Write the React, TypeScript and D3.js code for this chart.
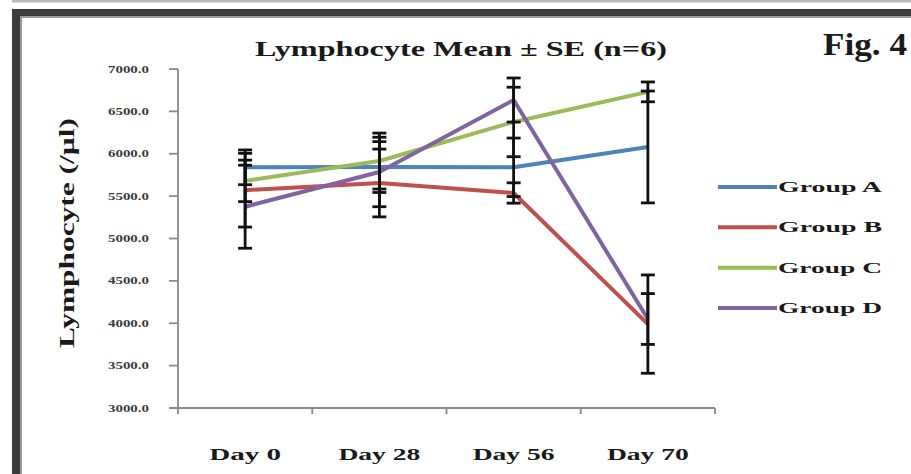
import React from "react";
import * as d3 from "d3";

// Sampling days along the x axis
const categories = ["Day 0", "Day 28", "Day 56", "Day 70"];

// Group names, in legend order
const groupNames = ["Group A", "Group B", "Group C", "Group D"];

// Mean lymphocyte counts (/µl) per group and day
const groupA = [5840, 5843, 5840, 6080];
const groupB = [5570, 5655, 5537, 3990];
const groupC = [5680, 5914, 6375, 6730];
const groupD = [5375, 5785, 6634, 4050];

// Standard errors per group and day
const seA = [205, 300, 345, 660];
const seB = [435, 400, 120, 580];
const seC = [245, 330, 410, 117];
const seD = [490, 410, 260, 300];

// Y axis ticks
const yTicks = [3000, 3500, 4000, 4500, 5000, 5500, 6000, 6500, 7000];

const seriesColors = ["#4F81BD", "#C0504D", "#9BBB59", "#8064A2"];

const W = 911;
const H = 474;
const FONT = "'Liberation Serif', 'DejaVu Serif', serif";

export default function App() {
  const means = [groupA, groupB, groupC, groupD];
  const errors = [seA, seB, seC, seD];

  const x = d3.scaleBand<string>().domain(categories).range([178, 715]);
  const y = d3.scaleLinear().domain([3000, 7000]).range([408, 69]);
  const cx = (c: string) => (x(c) as number) + x.bandwidth() / 2;

  const line = d3
    .line<number>()
    .x((_, i) => cx(categories[i]))
    .y((v) => y(v));

  const boundaries = [...categories.map((c) => x(c) as number), x.range()[1]];
  const legendY = d3.scalePoint<string>().domain(groupNames).range([187, 308]);

  return (
    <svg
      width={W}
      height={H}
      viewBox={`0 0 ${W} ${H}`}
      style={{ position: "absolute", left: 0, top: 0, background: "#fff" }}
    >
      {/* page frame */}
      <rect x={0} y={0} width={W} height={H} fill="#ffffff" />
      <rect x={12} y={0} width={W - 12} height={2.5} fill="#b8b8b8" />
      <rect x={12} y={9} width={W - 12} height={7} fill="#3c3c3c" />
      <rect x={12} y={16} width={W - 12} height={2} fill="#9a9a9a" />
      <rect x={12} y={9} width={8} height={H - 9} fill="#3c3c3c" />
      <rect x={20} y={16} width={2} height={H - 16} fill="#9a9a9a" />

      {/* title */}
      <text
        x={255}
        y={56}
        fontFamily={FONT}
        fontWeight="bold"
        fontSize={22}
        fill="#1a1a1a"
        textLength={412}
        lengthAdjust="spacingAndGlyphs"
      >
        Lymphocyte Mean ± SE  (n=6)
      </text>
      <text
        x={823}
        y={55}
        fontFamily={FONT}
        fontWeight="bold"
        fontSize={32}
        fill="#1a1a1a"
        textLength={84}
        lengthAdjust="spacingAndGlyphs"
      >
        Fig. 4
      </text>

      {/* y axis */}
      <line x1={178} x2={178} y1={y(7000)} y2={y(3000)} stroke="#8a8a8a" strokeWidth={1.8} />
      {yTicks.map((t) => (
        <g key={t}>
          <line x1={169} x2={178} y1={y(t)} y2={y(t)} stroke="#8a8a8a" strokeWidth={1.8} />
          <text
            x={149}
            y={y(t) + 3.5}
            textAnchor="end"
            fontFamily={FONT}
            fontWeight="bold"
            fontSize={10}
            fill="#3a3a3a"
            textLength={41}
            lengthAdjust="spacingAndGlyphs"
          >
            {t.toFixed(1)}
          </text>
        </g>
      ))}
      <text
        transform={`translate(74, 233) rotate(-90)`}
        textAnchor="middle"
        fontFamily={FONT}
        fontWeight="bold"
        fontSize={22}
        fill="#1a1a1a"
        textLength={230}
        lengthAdjust="spacingAndGlyphs"
      >
        Lymphocyte (/µl)
      </text>

      {/* x axis */}
      <line x1={170} x2={715} y1={408} y2={408} stroke="#8a8a8a" strokeWidth={1.8} />
      {boundaries.map((b, i) => (
        <line key={i} x1={b} x2={b} y1={408} y2={414} stroke="#8a8a8a" strokeWidth={1.8} />
      ))}
      {categories.map((c) => (
        <text
          key={c}
          x={cx(c)}
          y={460}
          textAnchor="middle"
          fontFamily={FONT}
          fontWeight="bold"
          fontSize={16}
          fill="#1a1a1a"
          textLength={c.length > 5 ? 82 : 72}
          lengthAdjust="spacingAndGlyphs"
        >
          {c}
        </text>
      ))}

      {/* series lines */}
      {means.map((m, s) => (
        <path
          key={s}
          d={line(m) as string}
          fill="none"
          stroke={seriesColors[s]}
          strokeWidth={4}
          strokeLinejoin="round"
        />
      ))}

      {/* error bars */}
      {means.map((m, s) =>
        m.map((v, i) => {
          const px = cx(categories[i]);
          const hi = y(v + errors[s][i]);
          const lo = y(v - errors[s][i]);
          return (
            <g key={`${s}-${i}`} stroke="#111" strokeWidth={2.8}>
              <line x1={px} x2={px} y1={hi} y2={lo} />
              <line x1={px - 7} x2={px + 7} y1={hi} y2={hi} />
              <line x1={px - 7} x2={px + 7} y1={lo} y2={lo} />
            </g>
          );
        })
      )}

      {/* legend */}
      {groupNames.map((g, s) => {
        const ly = legendY(g) as number;
        return (
          <g key={g}>
            <line x1={718} x2={777} y1={ly} y2={ly} stroke={seriesColors[s]} strokeWidth={4} />
            <text
              x={778}
              y={ly + 5}
              fontFamily={FONT}
              fontWeight="bold"
              fontSize={15}
              fill="#1a1a1a"
              textLength={104}
              lengthAdjust="spacingAndGlyphs"
            >
              {g}
            </text>
          </g>
        );
      })}
    </svg>
  );
}
